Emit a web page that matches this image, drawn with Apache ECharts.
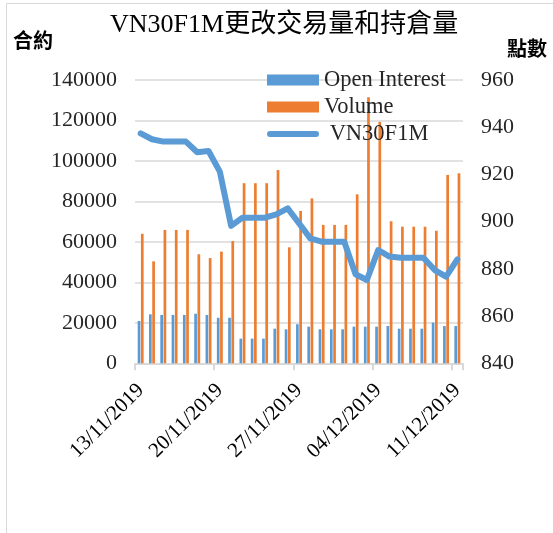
<!DOCTYPE html>
<html>
<head>
<meta charset="utf-8">
<script src="https://cdn.jsdelivr.net/npm/echarts@6/dist/echarts.min.js"></script>
<style>
html,body{margin:0;padding:0;background:#fff;}
#c{width:553px;height:533px;}
</style>
</head>
<body>
<div id="c"></div>
<script>
const categories = [
  "13/11/2019","14/11/2019","15/11/2019","16/11/2019","17/11/2019","18/11/2019","19/11/2019",
  "20/11/2019","21/11/2019","22/11/2019","23/11/2019","24/11/2019","25/11/2019","26/11/2019",
  "27/11/2019","28/11/2019","29/11/2019","30/11/2019","01/12/2019","02/12/2019","03/12/2019",
  "04/12/2019","05/12/2019","06/12/2019","07/12/2019","08/12/2019","09/12/2019","10/12/2019",
  "11/12/2019"
];
const openInterest = [
  20900,24200,23900,23900,23900,24500,23900,22500,22500,12200,12200,12200,17100,16800,
  19300,18100,16800,16800,16800,18100,18100,18100,18400,17100,17100,17100,20100,18400,18400
];
const volume = [
  64000,50400,65900,65900,65900,53900,52000,55200,60400,89000,89000,89000,95500,57300,
  75300,81500,68400,68400,68400,83500,131500,119300,70200,67500,67500,67500,65500,93100,93900
];
const vn30f1m = [
  937.4,934.9,933.9,933.9,933.9,929.4,929.9,921.2,898.2,901.7,901.7,901.7,903.1,905.6,
  899.3,892.9,891.5,891.5,891.5,877.7,875.3,888.0,885.2,884.7,884.7,884.7,879.5,876.7,884.0
];
const leftTicks = {min:0, max:140000, interval:20000};
const rightTicks = {min:840, max:960, interval:20};

const serif = '"Liberation Serif","Times New Roman","Noto Sans CJK TC",serif';
const BLUE = '#5B9BD5', ORANGE = '#ED7D31';
const lineIcon = 'path://M3,0 L49,0 A3,3 0 0 1 49,6 L3,6 A3,3 0 0 1 3,0 Z';

const chart = echarts.init(document.getElementById('c'), null, {renderer:'canvas'});
chart.setOption({
  animation:false,
  backgroundColor:'#fff',
  title:{
    text:'VN30F1M更改交易量和持倉量',
    left:105, top:7,
    textStyle:{fontFamily:serif, fontSize:26, fontWeight:'normal', color:'#000'}
  },
  graphic:[
    {type:'rect', shape:{x:6.5, y:3.5, width:700, height:700}, style:{fill:'none', stroke:'#D9D9D9', lineWidth:1}, silent:true},
    {type:'text', left:13, top:30, style:{text:'合約', font:'bold 20px "Noto Sans CJK TC"', fill:'#000'}},
    {type:'text', left:507, top:38, style:{text:'點數', font:'bold 20px "Noto Sans CJK TC"', fill:'#000'}}
  ],
  legend:{
    orient:'vertical', left:267, top:68.5, padding:0,
    itemWidth:52, itemHeight:11, itemGap:4, symbolKeepAspect:true,
    formatter:function(n){ return n === 'VN30F1M' ? ' VN30F1M' : n; },
    textStyle:{fontFamily:serif, fontSize:22.5, color:'#262626', lineHeight:23},
    data:[
      {name:'Open Interest', icon:'rect'},
      {name:'Volume', icon:'rect'},
      {name:'VN30F1M', icon:lineIcon}
    ]
  },
  grid:{left:135, right:90, top:80, bottom:169.7, containLabel:false},
  xAxis:{
    type:'category', data:categories, boundaryGap:true,
    axisLine:{lineStyle:{color:'#D9D9D9', width:2}},
    axisTick:{show:true, interval:6, length:7, lineStyle:{color:'#D9D9D9', width:2}},
    axisLabel:{interval:6, rotate:45, fontFamily:serif, fontSize:21, color:'#000', margin:24}
  },
  yAxis:[
    {type:'value', min:leftTicks.min, max:leftTicks.max, interval:leftTicks.interval,
     axisLine:{show:false}, axisTick:{show:false},
     splitLine:{lineStyle:{color:'#D9D9D9', width:1.5}},
     axisLabel:{fontFamily:serif, fontSize:22, color:'#262626', margin:18,
                formatter:function(v){ return String(v); }}},
    {type:'value', min:rightTicks.min, max:rightTicks.max, interval:rightTicks.interval,
     axisLine:{show:false}, axisTick:{show:false}, splitLine:{show:false},
     axisLabel:{fontFamily:serif, fontSize:22, color:'#262626', margin:18,
                formatter:function(v){ return String(v); }}}
  ],
  series:[
    {name:'Open Interest', type:'bar', data:openInterest, yAxisIndex:0,
     barWidth:2.7, barGap:'20%', itemStyle:{color:BLUE}},
    {name:'Volume', type:'bar', data:volume, yAxisIndex:0,
     barWidth:2.7, barGap:'20%', itemStyle:{color:ORANGE}},
    {name:'VN30F1M', type:'line', data:vn30f1m, yAxisIndex:1, symbol:'none', z:5,
     lineStyle:{color:BLUE, width:6, cap:'round', join:'round'}, itemStyle:{color:BLUE}}
  ]
});
</script>
</body>
</html>
